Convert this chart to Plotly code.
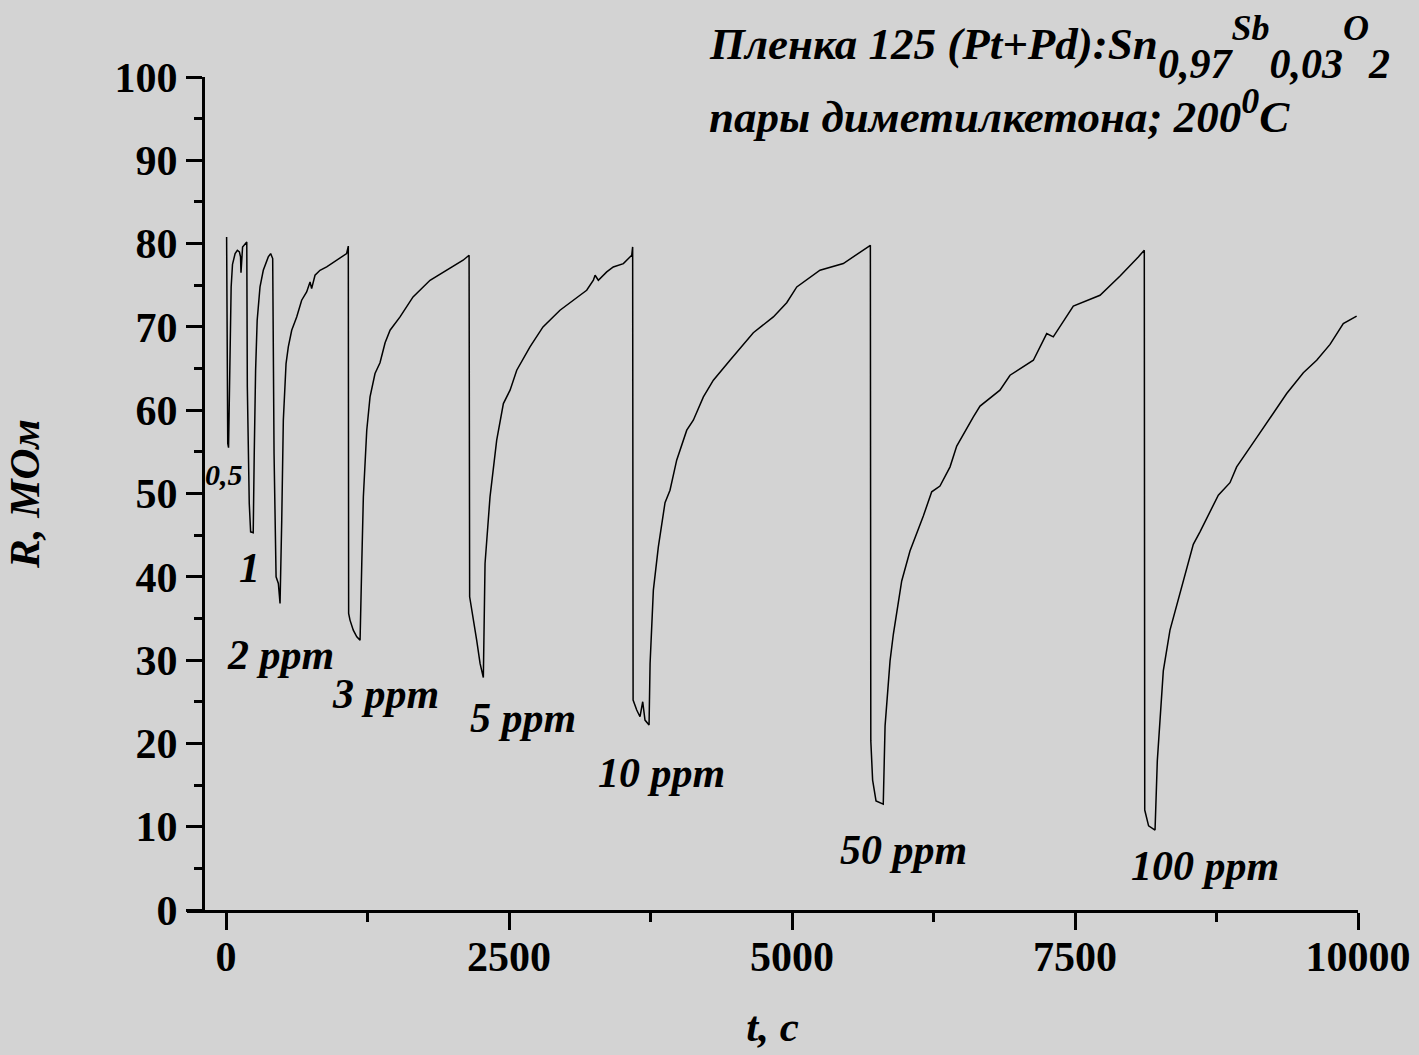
import plotly.graph_objects as go

# ---- data (time in s, resistance in MOhm), one block per exposure ----
t_05 = [5, 15, 22, 30, 45, 57, 80, 100, 118, 128, 132, 146, 168, 183]
r_05 = [80.8, 56.0, 55.5, 64.0, 74.8, 77.5, 78.8, 79.2, 79.0, 78.4, 76.5, 79.6, 80.0, 80.2]

t_1 = [188, 205, 217, 240, 249, 261, 275, 300, 329, 373, 394, 412]
r_1 = [62.8, 48.8, 45.4, 45.3, 54.8, 64.8, 70.8, 74.8, 76.8, 78.4, 78.8, 78.2]

t_2 = [424, 442, 462, 477, 492, 506, 530, 550, 580, 624, 668, 712, 742, 756, 786, 830, 889, 977, 1065, 1080]
r_2 = [54.8, 40.0, 39.2, 36.8, 46.8, 58.8, 65.6, 67.6, 69.6, 71.2, 73.2, 74.2, 75.4, 74.6, 76.2, 76.8, 77.2, 78.0, 78.8, 79.7]

t_3 = [1083, 1095, 1124, 1155, 1184, 1199, 1213, 1243, 1272, 1316, 1360, 1405, 1449, 1537, 1652, 1802, 1952, 2094, 2147]
r_3 = [35.6, 34.8, 33.6, 32.8, 32.4, 41.6, 49.6, 57.6, 61.6, 64.4, 65.7, 68.1, 69.6, 71.2, 73.6, 75.6, 76.8, 78.0, 78.6]

t_5 = [2152, 2214, 2244, 2273, 2288, 2332, 2391, 2450, 2509, 2568, 2685, 2800, 2950, 3127, 3186, 3245, 3260, 3289, 3363, 3421, 3510, 3584, 3592]
r_5 = [37.6, 32.4, 29.6, 27.9, 41.6, 49.6, 56.4, 60.8, 62.4, 64.8, 67.6, 70.0, 72.0, 73.8, 74.4, 75.6, 76.2, 75.6, 76.6, 77.2, 77.6, 78.6, 79.6]

t_10 = [3596, 3628, 3657, 3681, 3701, 3737, 3746, 3775, 3819, 3878, 3922, 3981, 4070, 4128, 4217, 4305, 4452, 4658, 4835, 4953, 5042, 5247, 5453, 5692]
r_10 = [25.2, 24.0, 23.2, 25.0, 22.8, 22.2, 29.6, 38.4, 43.6, 48.9, 50.4, 54.0, 57.6, 58.8, 61.6, 63.6, 66.0, 69.3, 71.2, 72.9, 74.8, 76.8, 77.6, 79.8]

t_50 = [5696, 5699, 5712, 5742, 5806, 5822, 5866, 5895, 5969, 6042, 6160, 6234, 6307, 6396, 6455, 6602, 6661, 6837, 6926, 7132, 7250, 7308, 7485, 7721, 7898, 8059, 8112]
r_50 = [20.3, 18.9, 15.6, 13.1, 12.7, 22.1, 29.9, 33.1, 39.5, 43.1, 47.3, 50.2, 50.9, 53.2, 55.7, 59.2, 60.5, 62.4, 64.2, 66.0, 69.2, 68.8, 72.5, 73.8, 76.1, 78.4, 79.2]

t_100 = [8116, 8150, 8207, 8227, 8251, 8280, 8339, 8398, 8457, 8545, 8604, 8707, 8766, 8869, 8928, 9105, 9223, 9370, 9517, 9635, 9753, 9870, 9988]
r_100 = [12.0, 10.1, 9.6, 17.9, 22.8, 28.7, 33.6, 36.6, 39.5, 43.9, 45.4, 48.3, 49.8, 51.3, 53.2, 56.7, 59.1, 62.0, 64.5, 66.0, 67.9, 70.4, 71.3]

label_text = ["0,5", "1", "2 ppm", "3 ppm", "5 ppm", "10 ppm", "50 ppm", "100 ppm"]
label_t = [-18, 203, 477, 1405, 2624, 3843, 5981, 8648]
label_r = [52.3, 41.0, 30.6, 25.9, 23.0, 16.4, 7.2, 5.3]
label_size = [30, 42, 42, 42, 42, 42, 42, 42]

x_ticks = [0, 2500, 5000, 7500, 10000]
x_ticktext = ["0", "2500", "5000", "7500", "10000"]
y_ticks = [0, 10, 20, 30, 40, 50, 60, 70, 80, 90, 100]

t_all = t_05 + t_1 + t_2 + t_3 + t_5 + t_10 + t_50 + t_100
r_all = r_05 + r_1 + r_2 + r_3 + r_5 + r_10 + r_50 + r_100

BG = "#d3d3d3"
FONT = "Liberation Serif"

fig = go.Figure()
fig.add_trace(go.Scatter(x=t_all, y=r_all, mode="lines",
                         line=dict(color="black", width=1.5),
                         showlegend=False, hoverinfo="x+y"))

for txt, tx, ry, sz in zip(label_text, label_t, label_r, label_size):
    fig.add_annotation(x=tx, y=ry, xref="x", yref="y", text=txt, showarrow=False,
                       font=dict(family=FONT, size=sz, color="black",
                                 weight="bold", style="italic"))


def sub(s):
    return "<sub><span style='font-size:42px;baseline-shift:-10px'>" + s + "</span></sub>"


def sup(s):
    return "<sup><span style='font-size:36px'>" + s + "</span></sup>"


title1 = "Пленка 125 (Pt+Pd):Sn" + sub("0,97") + sup("Sb") + sub("0,03") + sup("O") + sub("2")
title2 = "пары диметилкетона; 200" + sup("0") + "C"

fig.add_annotation(xref="paper", yref="paper", x=0.444, y=1.036,
                   xanchor="left", yanchor="middle", showarrow=False, text=title1,
                   font=dict(family=FONT, size=45, color="black", weight="bold", style="italic"))
fig.add_annotation(xref="paper", yref="paper", x=0.444, y=0.958,
                   xanchor="left", yanchor="middle", showarrow=False, text=title2,
                   font=dict(family=FONT, size=45, color="black", weight="bold", style="italic"))

tickfont = dict(family=FONT, size=42, color="black", weight="bold")
titlefont = dict(family=FONT, size=43, color="black", weight="bold", style="italic")

fig.update_layout(
    width=1419, height=1055,
    margin=dict(l=187, r=61, t=77, b=145, autoexpand=False),
    paper_bgcolor=BG, plot_bgcolor=BG,
    showlegend=False,
    xaxis=dict(range=[-345, 10000], showline=True, linecolor="black", linewidth=3,
               ticks="outside", ticklen=17, tickwidth=3, tickcolor="black",
               tickvals=x_ticks, ticktext=x_ticktext, ticklabelstandoff=-9,
               showgrid=False, zeroline=False, tickfont=tickfont,
               minor=dict(ticks="outside", ticklen=9, tickwidth=3, tickcolor="black",
                          tickvals=[1250, 3750, 6250, 8750]),
               title=dict(text="t, с", font=titlefont, standoff=32)),
    yaxis=dict(range=[0, 100], anchor="free", position=0.01366,
               showline=True, linecolor="black", linewidth=3,
               ticks="outside", ticklen=16, tickwidth=3, tickcolor="black",
               tickvals=y_ticks, showgrid=False, zeroline=False, tickfont=tickfont,
               minor=dict(ticks="outside", ticklen=8, tickwidth=3, tickcolor="black",
                          tickvals=[5, 15, 25, 35, 45, 55, 65, 75, 85, 95]),
               title=dict(text="R, МОм", font=titlefont, standoff=60)),
)

fig.write_html("out.html")
